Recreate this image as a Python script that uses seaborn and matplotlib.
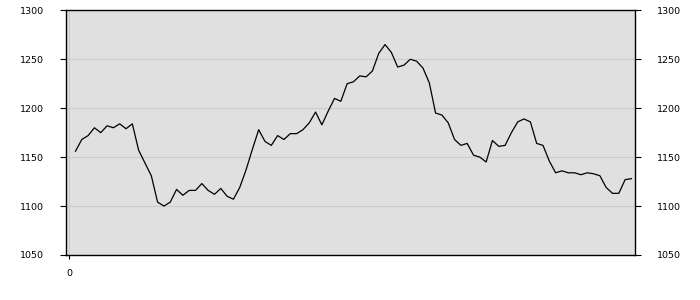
import matplotlib
matplotlib.use("Agg")
import matplotlib.pyplot as plt
import seaborn as sns
import pandas as pd

values = [1156, 1168, 1172, 1180, 1175, 1182, 1180, 1184, 1179, 1184,
          1157, 1144, 1131, 1104, 1100, 1104, 1117, 1111, 1116, 1116,
          1123, 1116, 1112, 1118, 1110, 1107, 1119, 1137, 1158, 1178,
          1166, 1162, 1172, 1168, 1174, 1174, 1178, 1185, 1196, 1183,
          1197, 1210, 1207, 1225, 1227, 1233, 1232, 1238, 1256, 1265,
          1257, 1242, 1244, 1250, 1248, 1241, 1226, 1195, 1193, 1185,
          1168, 1162, 1164, 1152, 1150, 1145, 1167, 1161, 1162, 1175,
          1186, 1189, 1186, 1164, 1162, 1146, 1134, 1136, 1134, 1134,
          1132, 1134, 1133, 1131, 1119, 1113, 1113, 1127, 1128]
index = list(range(1, len(values) + 1))
y_ticks = [1050, 1100, 1150, 1200, 1250, 1300]
x_ticks = [0]

df = pd.DataFrame({"x": index, "y": values})

fig = plt.figure(figsize=(7, 3), dpi=100)
ax = fig.add_axes([66 / 700, 45 / 300, (634.6 - 66) / 700, (255 - 10.3) / 300])
ax.set_facecolor("#e0e0e0")

sns.lineplot(data=df, x="x", y="y", ax=ax, color="black", linewidth=0.9)

ax.set_xlim(-0.5, 89.5)
ax.set_ylim(1050, 1300)
ax.set_yticks(y_ticks)
ax.set_xticks(x_ticks)
ax.set_xticklabels([str(t) for t in x_ticks])
ax.set_yticklabels([str(t) for t in y_ticks])
ax.set_xlabel("")
ax.set_ylabel("")

ax.grid(True, color="#cccccc", linewidth=0.8)
ax.set_axisbelow(True)
for s in ax.spines.values():
    s.set_color("black")
    s.set_linewidth(1.0)

ax.tick_params(axis="y", which="both", left=True, right=True, labelleft=True,
               labelright=True, length=4, width=0.8, pad=12, labelsize=6.8,
               colors="black")
ax.tick_params(axis="x", length=3, width=0.8, pad=7, labelsize=6.8, colors="black")

fig.savefig("out.png", dpi=100, facecolor="white")
